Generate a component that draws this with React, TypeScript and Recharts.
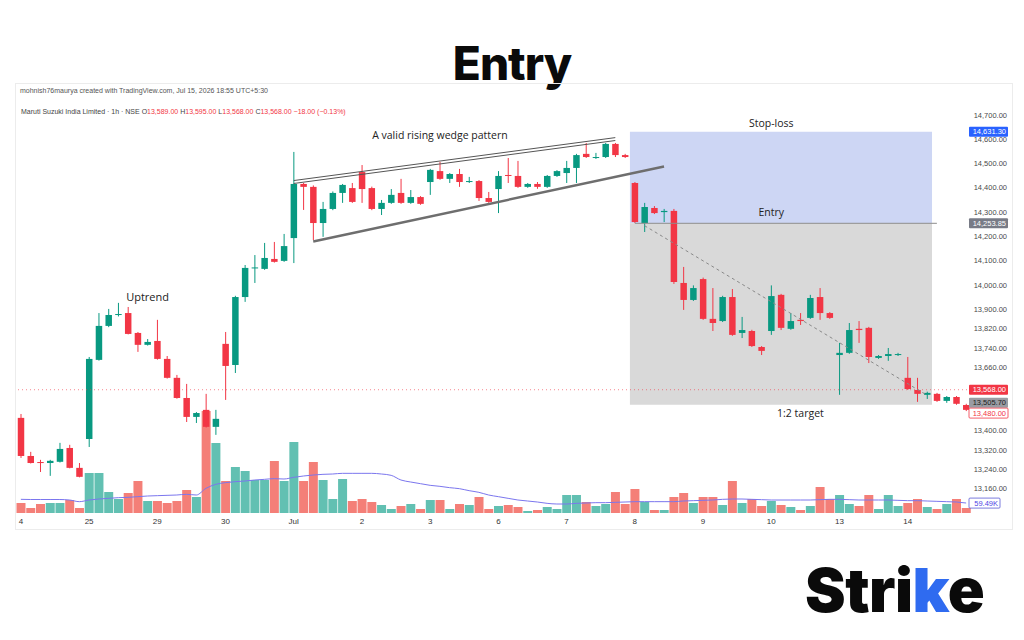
import React from 'react';
import { ComposedChart, Bar, Line, Cell, XAxis, YAxis, ReferenceArea, ReferenceLine, ReferenceDot } from 'recharts';

// hourly candles, 7 per session
const days = ['4', '25', '29', '30', 'Jul', '2', '3', '6', '7', '8', '9', '10', '13', '14'];
const hours = ['09:15', '10:15', '11:15', '12:15', '13:15', '14:15', '15:15'];

const opens = [
  13452, 13295, 13270, 13266, 13271, 13328, 13246, 13365, 13691, 13831,
  13876, 13884, 13802, 13753, 13769, 13695, 13617, 13534, 13456, 13485,
  13415, 13757, 13670, 13950, 14068, 14066, 14107, 14099, 14193, 14416,
  14404, 14255, 14313, 14379, 14399, 14465, 14399, 14313, 14338, 14379,
  14338, 14362, 14424, 14469, 14437, 14457, 14424, 14428, 14358, 14395,
  14453, 14449, 14404, 14416, 14404, 14449, 14461, 14482, 14540, 14523,
  14527, 14581, 14535, 14420, 14255, 14317, 14300, 14305, 14008, 13938,
  14024, 13860, 13851, 13950, 13802, 13810, 13744, 13810, 13959, 13819,
  13856, 13864, 13950, 13884, 13711, 13720, 13819, 13823, 13699, 13707,
  13711, 13617, 13567, 13547, 13551, 13522, 13538, 13505,
];
const highs = [
  13468, 13312, 13279, 13279, 13349, 13341, 13266, 13703, 13884, 13901,
  13926, 13909, 13806, 13777, 13856, 13707, 13629, 13592, 13476, 13551,
  13485, 13806, 13955, 14082, 14123, 14173, 14177, 14210, 14548, 14420,
  14410, 14342, 14385, 14416, 14420, 14494, 14405, 14350, 14395, 14437,
  14391, 14366, 14478, 14507, 14461, 14478, 14445, 14432, 14383, 14469,
  14523, 14511, 14420, 14424, 14453, 14473, 14511, 14540, 14585, 14544,
  14585, 14585, 14540, 14424, 14338, 14325, 14313, 14313, 14074, 13998,
  14030, 13987, 13955, 13983, 13868, 13815, 13748, 13998, 13963, 13884,
  13884, 13959, 13987, 13888, 13761, 13843, 13851, 13827, 13711, 13740,
  13720, 13703, 13617, 13560, 13555, 13542, 13542, 13510,
];
const lows = [
  13287, 13264, 13229, 13213, 13268, 13244, 13207, 13332, 13688, 13826,
  13870, 13796, 13724, 13750, 13692, 13614, 13531, 13435, 13431, 13412,
  13382, 13526, 13637, 13930, 14008, 14062, 14092, 14095, 14090, 14309,
  14185, 14198, 14308, 14338, 14338, 14338, 14308, 14288, 14334, 14334,
  14334, 14330, 14371, 14433, 14420, 14404, 14420, 14346, 14338, 14296,
  14420, 14400, 14400, 14396, 14400, 14445, 14420, 14420, 14523, 14519,
  14523, 14527, 14523, 14255, 14218, 14292, 14259, 14004, 13897, 13934,
  13856, 13810, 13847, 13790, 13781, 13744, 13711, 13794, 13814, 13815,
  13835, 13860, 13856, 13860, 13547, 13716, 13761, 13678, 13695, 13687,
  13707, 13567, 13518, 13530, 13518, 13514, 13506, 13480,
];
const closes = [
  13295, 13266, 13268, 13275, 13324, 13246, 13209, 13695, 13831, 13876,
  13880, 13798, 13753, 13765, 13695, 13617, 13534, 13456, 13472, 13415,
  13448, 13666, 13950, 14070, 14072, 14111, 14095, 14160, 14416, 14404,
  14255, 14313, 14379, 14412, 14342, 14395, 14313, 14338, 14371, 14338,
  14362, 14334, 14474, 14437, 14457, 14424, 14428, 14358, 14342, 14449,
  14449, 14404, 14416, 14404, 14449, 14469, 14482, 14535, 14527, 14527,
  14581, 14535, 14527, 14259, 14321, 14296, 14305, 14012, 13938, 13987,
  13860, 13843, 13950, 13794, 13814, 13748, 13728, 13954, 13823, 13851,
  13851, 13946, 13884, 13864, 13720, 13814, 13814, 13703, 13707, 13715,
  13715, 13571, 13551, 13555, 13522, 13538, 13510, 13485,
];
// volume in thousands
const volumes = [
  60, 30, 54, 60, 60, 78, 30, 240, 240, 126,
  84, 120, 192, 72, 72, 60, 72, 138, 96, 612,
  420, 192, 276, 252, 198, 198, 312, 192, 426, 192,
  306, 198, 84, 204, 72, 84, 66, 48, 24, 42,
  54, 24, 78, 78, 24, 54, 48, 96, 24, 42,
  48, 36, 12, 18, 36, 24, 108, 108, 66, 42,
  54, 126, 54, 144, 66, 18, 18, 96, 120, 60,
  96, 96, 48, 192, 60, 84, 42, 72, 48, 36,
  18, 42, 156, 84, 108, 54, 42, 108, 24, 108,
  42, 60, 84, 36, 24, 54, 84, 30,
];
const volumeMA = [
  82, 81, 81, 81, 81, 78, 68, 78, 84, 88,
  92, 94, 98, 102, 104, 106, 108, 112, 108, 148,
  172, 182, 188, 192, 198, 202, 206, 204, 214, 222,
  228, 232, 234, 238, 238, 238, 238, 234, 226, 198,
  186, 176, 166, 160, 152, 146, 134, 124, 108, 98,
  88, 78, 72, 66, 58, 54, 54, 58, 60, 62,
  62, 64, 66, 68, 68, 68, 68, 68, 72, 74,
  76, 78, 82, 84, 84, 82, 80, 78, 78, 78,
  78, 78, 80, 82, 82, 80, 78, 78, 78, 78,
  76, 74, 74, 72, 70, 68, 66, 60,
];

const priceTicks = [14700, 14600, 14500, 14400, 14300, 14200, 14100, 14000, 13900, 13820, 13740, 13660, 13400, 13320, 13240, 13160];

const cats = days.flatMap((d) => hours.map((h) => `${d} ${h}`));
const data = cats.map((t, i) => ({
  t,
  open: opens[i],
  high: highs[i],
  low: lows[i],
  close: closes[i],
  volume: volumes[i],
  ma: volumeMA[i],
}));

const GREEN = '#089981';
const RED = '#f23645';
const VOL_UP = '#62c0b2';
const VOL_DOWN = '#f47f78';
const AXIS_FONT = 'Liberation Sans, Arial, sans-serif';
const NOTE_FONT = 'Open Sans, Noto Sans, sans-serif';

const fmt = (v: number) => v.toLocaleString('en-US', { minimumFractionDigits: 2, maximumFractionDigits: 2 });

const Candle = (props: any) => {
  const { x, y, width, height, payload } = props;
  const { open, close, high, low } = payload;
  const color = close >= open ? GREEN : RED;
  const top = Math.min(y, y + height);
  const h = Math.abs(height);
  const k = high === low ? 0 : h / (high - low);
  const yOf = (v: number) => top + (high - v) * k;
  const cx = x + width / 2;
  const bw = width * 0.72;
  const bTop = yOf(Math.max(open, close));
  const bBot = yOf(Math.min(open, close));
  return (
    <g>
      <line x1={cx} x2={cx} y1={top} y2={top + h} stroke={color} strokeWidth={1} />
      <rect x={cx - bw / 2} y={bTop} width={bw} height={Math.max(1, bBot - bTop)} fill={color} />
    </g>
  );
};

const PriceTick = (props: any) => {
  const { x, y, payload } = props;
  return (
    <text x={x + 36} y={y} dy="0.35em" textAnchor="end" fontSize={7.5} fill="#4a4a4a" fontFamily={AXIS_FONT}>
      {fmt(payload.value)}
    </text>
  );
};

const badge = (text: string, bg: string, fg: string, border = 'none', w = 39, dy = 0) => (props: any) => {
  const { viewBox } = props;
  const bx = viewBox.x + viewBox.width - 2;
  const by = viewBox.y + dy;
  return (
    <g>
      <rect x={bx} y={by - 5} width={w} height={10} fill={bg} stroke={border} strokeWidth={0.8} rx={1} />
      <text x={bx + w - 2} y={by} dy="0.35em" textAnchor="end" fontSize={7.5} fill={fg} fontFamily={AXIS_FONT}>
        {text}
      </text>
    </g>
  );
};

const note = (value: string, size = 10.5) => ({ value, position: 'center' as const, fontSize: size, fill: '#222', fontFamily: NOTE_FONT });

export default function App() {
  return (
    <div style={{ position: 'absolute', left: 0, top: 0, width: 1024, height: 640, background: '#fff', overflow: 'hidden' }}>
      <svg width={1024} height={640} style={{ position: 'absolute', left: 0, top: 0 }}>
        <text x={512} y={80} textAnchor="middle" fontSize={46} fontWeight={800} letterSpacing={-1} fill="#0a0a0a" fontFamily="Inter, sans-serif">
          Entry
        </text>
        <rect x={15.5} y={83.5} width={997} height={446} fill="none" stroke="#ececec" />
        <text x={20} y={93} fontSize={7} fill="#555" fontFamily={AXIS_FONT}>
          mohnish76maurya created with TradingView.com, Jul 15, 2026 18:55 UTC+5:30
        </text>
        <text x={21} y={114} fontSize={7} fill="#444" fontFamily={AXIS_FONT}>
          Maruti Suzuki India Limited · 1h · NSE{'  '}
          <tspan>O</tspan><tspan fill={RED}>13,589.00</tspan>{'  '}
          <tspan>H</tspan><tspan fill={RED}>13,595.00</tspan>{'  '}
          <tspan>L</tspan><tspan fill={RED}>13,568.00</tspan>{'  '}
          <tspan>C</tspan><tspan fill={RED}>13,568.00</tspan>{'  '}
          <tspan fill={RED}>−18.00 (−0.13%)</tspan>
        </text>
        <text x={805} y={612} fontSize={61} fontWeight={900} letterSpacing={-0.5} fill="#0a0a0a" fontFamily="Inter, sans-serif">
          Stri<tspan fill="#2f6bf0">k</tspan>e
        </text>
      </svg>
      <div style={{ position: 'absolute', left: 0, top: 0 }}>
        <ComposedChart width={1024} height={640} data={data} margin={{ top: 100, right: 8, left: 16, bottom: 107 }} barCategoryGap={0.5}>
          <XAxis
            dataKey="t"
            interval={6}
            height={20}
            axisLine={false}
            tickLine={false}
            tickSize={0}
            tickMargin={5}
            tickFormatter={(t: string) => t.split(' ')[0]}
            tick={{ fontSize: 8, fill: '#333', fontFamily: AXIS_FONT }}
          />
          <XAxis xAxisId="v" dataKey="t" hide />
          <YAxis
            orientation="right"
            width={45}
            type="number"
            domain={[13060, 14762]}
            allowDataOverflow
            ticks={priceTicks}
            interval={0}
            axisLine={false}
            tickLine={false}
            tickSize={0}
            tickMargin={0}
            tick={<PriceTick />}
          />
          <YAxis yAxisId="v" hide type="number" domain={[0, 2478]} allowDataOverflow />

          <ReferenceArea x1={cats[63]} x2={cats[93]} y1={14253.85} y2={14631.3} fill="#cdd6f4" fillOpacity={1} stroke="none" />
          <ReferenceArea x1={cats[63]} x2={cats[93]} y1={13505.7} y2={14253.85} fill="#d9d9d9" fillOpacity={1} stroke="none" />

          <Bar xAxisId="v" yAxisId="v" dataKey="volume" isAnimationActive={false}>
            {data.map((d, i) => (
              <Cell key={i} fill={d.close >= d.open ? VOL_UP : VOL_DOWN} />
            ))}
          </Bar>
          <Line xAxisId="v" yAxisId="v" dataKey="ma" type="monotone" stroke="#7b76ee" strokeWidth={1} dot={false} isAnimationActive={false} />

          <Bar dataKey={(d: any) => [d.low, d.high]} shape={<Candle />} isAnimationActive={false} />

          <ReferenceLine y={13568} stroke={RED} strokeOpacity={0.6} strokeDasharray="1 3" label={badge('13,568.00', RED, '#fff')} />
          <ReferenceLine y={14631.3} stroke="none" label={badge('14,631.30', '#2962ff', '#fff')} />
          <ReferenceLine y={14253.85} stroke="none" label={badge('14,253.85', '#787b86', '#fff')} />
          <ReferenceLine y={13505.7} stroke="none" label={badge('13,505.70', '#9a9ca3', '#222', 'none', 39, -2)} />
          <ReferenceLine y={13480} stroke="none" label={badge('13,480.00', '#fff', RED, RED, 39, 2)} />
          <ReferenceLine xAxisId="v" yAxisId="v" y={59.49} stroke="none" label={badge('59.49K', '#fff', '#4f46e5', '#5b5bd6', 31)} />

          <ReferenceLine segment={[{ x: cats[63], y: 14253.85 }, { x: cats[94], y: 14253.85 }]} stroke="#8c8c8c" strokeWidth={1} />
          <ReferenceLine segment={[{ x: cats[64], y: 14244 }, { x: cats[93], y: 13545 }]} stroke="#8a8a8a" strokeWidth={1} strokeDasharray="3 3" />
          <ReferenceLine segment={[{ x: cats[28], y: 14430 }, { x: cats[61], y: 14607 }]} stroke="#555" strokeWidth={1} />
          <ReferenceLine segment={[{ x: cats[28], y: 14418 }, { x: cats[61], y: 14595 }]} stroke="#555" strokeWidth={1} />
          <ReferenceLine segment={[{ x: cats[30], y: 14179 }, { x: cats[66], y: 14488 }]} stroke="#6e6e6e" strokeWidth={2.5} />

          <ReferenceDot x={cats[43]} y={14618} r={1} fill="none" stroke="none" label={note('A valid rising wedge pattern')} />
          <ReferenceDot x={cats[13]} y={13950} r={1} fill="none" stroke="none" label={note('Uptrend', 11)} />
          <ReferenceDot x={cats[77]} y={14667} r={1} fill="none" stroke="none" label={note('Stop-loss', 10.5)} />
          <ReferenceDot x={cats[77]} y={14300} r={1} fill="none" stroke="none" label={note('Entry', 10.5)} />
          <ReferenceDot x={cats[80]} y={13472} r={1} fill="none" stroke="none" label={note('1:2 target', 10.5)} />
        </ComposedChart>
      </div>
    </div>
  );
}
